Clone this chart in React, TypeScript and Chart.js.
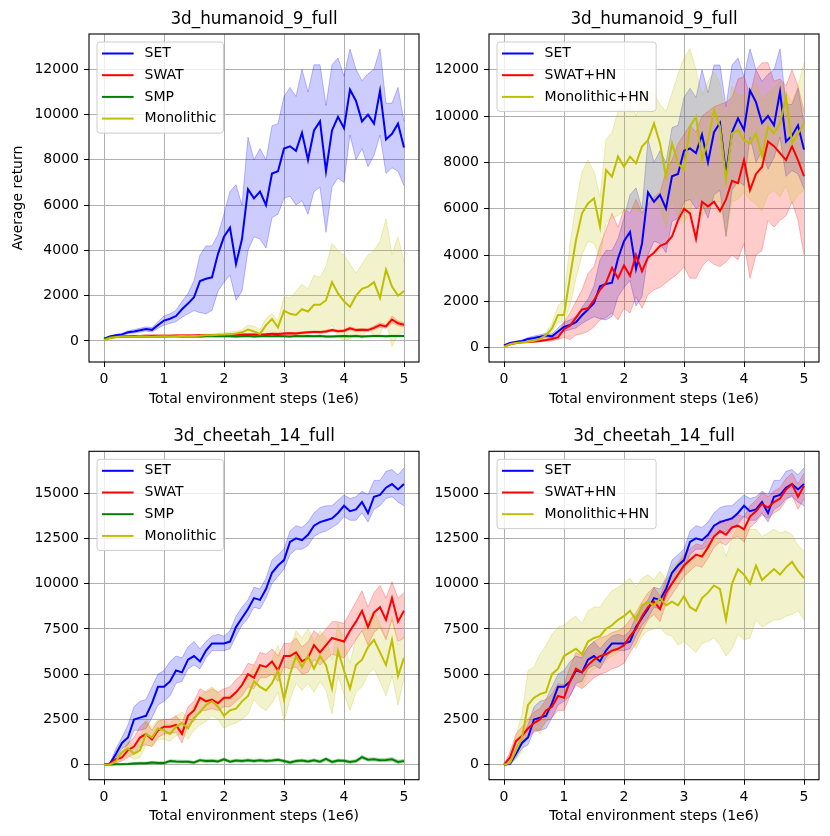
import { useEffect, useRef } from "react";
import { Chart, registerables } from "chart.js";

Chart.register(...registerables);
Chart.defaults.font.family = '"DejaVu Sans", sans-serif';

// ---- data ----
const STEPS = [
  0, 0.1, 0.2, 0.3, 0.4, 0.5, 0.6, 0.7, 0.8, 0.9,
  1.0, 1.1, 1.2, 1.3, 1.4, 1.5, 1.6, 1.7, 1.8, 1.9,
  2.0, 2.1, 2.2, 2.3, 2.4, 2.5, 2.6, 2.7, 2.8, 2.9,
  3.0, 3.1, 3.2, 3.3, 3.4, 3.5, 3.6, 3.7, 3.8, 3.9,
  4.0, 4.1, 4.2, 4.3, 4.4, 4.5, 4.6, 4.7, 4.8, 4.9,
  5.0,
];
const X_TICKS = [0, 1, 2, 3, 4, 5];
const HUMANOID_Y_TICKS = [0, 2000, 4000, 6000, 8000, 10000, 12000];
const CHEETAH_Y_TICKS = [0, 2500, 5000, 7500, 10000, 12500, 15000];

// humanoid, SET (shared by both humanoid panels)
const HUM_SET_MEAN = [
  100, 200, 250, 290, 380, 420, 470, 530, 490, 700,
  900, 980, 1100, 1400, 1650, 1930, 2650, 2750, 2810, 3850,
  4600, 5000, 3400, 4500, 6700, 6300, 6600, 6000, 7400, 7500,
  8500, 8600, 8400, 9200, 8000, 9300, 9700, 7500, 9300, 9900,
  9400, 11100, 10600, 9700, 10000, 9600, 11050, 8900, 9150, 9600,
  8550,
];
const HUM_SET_LO = [
  80, 170, 220, 250, 320, 350, 390, 440, 400, 560,
  700, 780, 850, 1050, 1200, 1340, 1250, 1200, 1350, 2200,
  2600, 2900, 1800, 2200, 4000, 4600, 4500, 4100, 5450, 5600,
  6300, 6400, 6000, 6200, 5600, 6600, 6800, 4800, 6800, 7200,
  7000, 9100, 8000, 8500, 7700, 8200, 9100, 7400, 7650, 7500,
  6860,
];
const HUM_SET_HI = [
  120, 230, 290, 330, 440, 500, 560, 620, 590, 850,
  1100, 1200, 1350, 1750, 2100, 2660, 3800, 4200, 4200, 4700,
  5600, 6600, 6900, 6000, 9000, 8000, 8500, 8000, 9500, 9600,
  10800, 11200, 10800, 12000, 11000, 12200, 12200, 10400, 12200, 12500,
  11700, 12900, 12000, 11500, 11800, 12000, 12900, 10500, 10500, 11200,
  9700,
];

// humanoid, SWAT
const HUM_SWAT_MEAN = [
  50, 150, 190, 200, 210, 220, 220, 230, 230, 230,
  230, 230, 240, 240, 240, 240, 250, 250, 250, 260,
  260, 270, 270, 280, 280, 280, 290, 300, 320, 310,
  330, 340, 330, 360, 380, 400, 390, 420, 480, 430,
  450, 560, 480, 490, 480, 580, 700, 640, 950, 780,
  720,
];
const HUM_SWAT_LO = [
  30, 120, 160, 170, 180, 190, 190, 200, 200, 200,
  200, 200, 210, 210, 210, 210, 220, 220, 220, 230,
  230, 240, 240, 250, 250, 250, 260, 270, 280, 270,
  290, 300, 290, 320, 340, 350, 340, 370, 420, 380,
  390, 490, 420, 430, 420, 500, 600, 560, 800, 680,
  620,
];
const HUM_SWAT_HI = [
  70, 180, 220, 230, 240, 250, 250, 260, 260, 260,
  260, 260, 270, 270, 270, 270, 280, 280, 280, 290,
  290, 300, 300, 310, 310, 310, 320, 330, 360, 350,
  370, 380, 370, 400, 420, 450, 440, 470, 540, 480,
  510, 630, 540, 550, 540, 660, 800, 720, 1100, 880,
  820,
];

// humanoid, SMP
const HUM_SMP_MEAN = [
  100, 150, 170, 180, 190, 200, 200, 200, 210, 200,
  200, 210, 210, 200, 200, 210, 200, 210, 220, 210,
  220, 210, 200, 210, 220, 200, 210, 220, 210, 220,
  210, 200, 220, 210, 220, 210, 220, 200, 200, 210,
  220, 210, 220, 200, 210, 220, 220, 210, 220, 220,
  220,
];
const HUM_SMP_LO = [
  70, 120, 140, 150, 160, 165, 165, 165, 175, 165,
  165, 175, 175, 165, 165, 175, 165, 175, 185, 175,
  185, 175, 165, 175, 185, 165, 175, 185, 175, 185,
  175, 165, 185, 175, 185, 175, 185, 165, 165, 175,
  185, 175, 185, 165, 175, 185, 185, 175, 185, 185,
  185,
];
const HUM_SMP_HI = [
  130, 180, 200, 210, 220, 235, 235, 235, 245, 235,
  235, 245, 245, 235, 235, 245, 235, 245, 255, 245,
  255, 245, 235, 245, 255, 235, 245, 255, 245, 255,
  245, 235, 255, 245, 255, 245, 255, 235, 235, 245,
  255, 245, 255, 235, 245, 255, 255, 245, 255, 255,
  255,
];

// humanoid, Monolithic
const HUM_MONO_MEAN = [
  30, 130, 170, 190, 200, 190, 210, 200, 190, 200,
  210, 200, 210, 220, 210, 220, 230, 250, 250, 270,
  280, 300, 330, 380, 500, 420, 310, 700, 970, 600,
  1340, 1200, 1150, 1400, 1300, 1600, 1600, 1800, 2600, 2100,
  1750, 1500, 2000, 2300, 2400, 2600, 1900, 3150, 2400, 2000,
  2200,
];
const HUM_MONO_LO = [
  0, 90, 130, 150, 150, 140, 160, 150, 140, 150,
  160, 150, 160, 170, 160, 170, 170, 190, 190, 200,
  200, 210, 230, 260, 350, 300, 200, 350, 450, 350,
  500, 300, 350, 250, 300, 450, 300, 400, 700, 200,
  0, 100, 300, 100, 600, 200, 300, 900, -250, 300,
  400,
];
const HUM_MONO_HI = [
  60, 170, 210, 230, 250, 240, 260, 250, 240, 250,
  260, 250, 260, 270, 260, 270, 290, 310, 310, 340,
  360, 390, 430, 500, 700, 650, 500, 1000, 1200, 900,
  1950, 1900, 2200, 2500, 2300, 2900, 2800, 3300, 4300, 4000,
  3800, 3400, 3000, 3400, 3800, 4000, 4400, 5400, 3800, 4600,
  3500,
];

// humanoid, SWAT+HN
const HUM_SWATHN_MEAN = [
  50, 150, 200, 230, 250, 270, 290, 330, 380, 450,
  800, 950, 1300, 1650, 1700, 2050, 2500, 2800, 3450, 3000,
  3550, 3100, 4000, 3300, 3900, 4100, 4400, 4500, 4800, 5500,
  6000, 5800, 4700, 6300, 6100, 6300, 5900, 6400, 7200, 7100,
  8100, 6800, 7500, 7800, 8900, 8700, 8400, 8100, 8700, 8100,
  7400,
];
const HUM_SWATHN_LO = [
  30, 120, 170, 200, 220, 230, 250, 280, 300, 350,
  450, 350, 550, 600, 700, 900, 1200, 1300, 1500, 1200,
  1700, 1500, 2200, 1700, 2300, 2500, 2600, 2800, 3000, 3200,
  3500, 3000, 3000, 3500, 3800, 3600, 3500, 3700, 4000, 3800,
  4500, 3000, 4000, 4200, 5500, 5200, 5500, 5700, 6300, 5500,
  4000,
];
const HUM_SWATHN_HI = [
  70, 180, 230, 260, 280, 310, 340, 390, 460, 600,
  1100, 1500, 2000, 2500, 3200, 3500, 4400, 5100, 5800, 5200,
  6000, 5800, 6400, 5800, 6200, 6500, 6700, 7600, 8100, 8800,
  9200, 9600, 9300, 10000, 10200, 10400, 10500, 10600, 10800, 11600,
  11700, 10900, 12000, 12300, 12300, 11500, 11600, 11300, 12000, 11300,
  10200,
];

// humanoid, Monolithic+HN
const HUM_MONOHN_MEAN = [
  30, 150, 200, 230, 260, 300, 380, 550, 830, 1410,
  1410, 3060, 4650, 5800, 6230, 6450, 5220, 7670, 7380, 8250,
  7810, 8250, 7960, 8680, 8960, 9680, 8820, 7380, 8820, 7960,
  7670, 9540, 9970, 8100, 8960, 10260, 9540, 7240, 9250, 9390,
  8960, 8820, 9250, 8250, 9540, 9250, 9680, 10840, 8820, 9250,
  9680,
];
const HUM_MONOHN_LO = [
  20, 130, 180, 210, 230, 260, 320, 450, 650, 1100,
  1100, 1800, 3000, 4000, 4600, 4500, 3900, 5400, 5600, 5700,
  5900, 6000, 6000, 5800, 6200, 6500, 6000, 5200, 6400, 5600,
  5400, 5900, 6700, 5700, 5900, 6300, 6300, 4800, 6300, 6400,
  6700, 6400, 6200, 5900, 6600, 6800, 6500, 7000, 6200, 6600,
  6800,
];
const HUM_MONOHN_HI = [
  40, 170, 220, 250, 290, 340, 440, 650, 1050, 1800,
  2100, 4500, 6200, 7600, 8100, 7600, 6500, 9000, 9300, 10200,
  10500, 10600, 10000, 10800, 11000, 11000, 10500, 10200, 11000, 11800,
  12500, 12900, 12000, 10900, 11500, 11900, 11400, 9800, 11300, 10900,
  10900, 11100, 11400, 10700, 11000, 11200, 11500, 11000, 10600, 11300,
  12300,
];

// cheetah, SET (shared by both cheetah panels)
const CHE_SET_MEAN = [
  0, 50, 600, 1200, 1500, 2500, 2600, 2700, 3400, 4300,
  4300, 4600, 5200, 5100, 5800, 6000, 5700, 6300, 6700, 6700,
  6700, 6800, 7600, 8100, 8600, 9200, 9100, 9700, 10600, 11000,
  11300, 12300, 12500, 12400, 12700, 13200, 13400, 13500, 13600, 13900,
  14300, 14000, 14100, 14500, 13900, 14800, 14900, 15300, 15500, 15200,
  15500,
];
const CHE_SET_LO = [
  0, 0, 400, 900, 1100, 1900, 1900, 2000, 2600, 3300,
  3500, 3800, 4500, 4600, 5300, 5500, 5300, 5900, 6300, 6300,
  6300, 6400, 7100, 7700, 8100, 8700, 8600, 9200, 10000, 10400,
  10800, 11600, 11900, 11900, 12100, 12600, 12800, 12900, 13100, 13300,
  13700, 13500, 13500, 13900, 13400, 14100, 14300, 14700, 14800, 14500,
  14300,
];
const CHE_SET_HI = [
  0, 100, 900, 1500, 2200, 3200, 3500, 3600, 4300, 5000,
  5200, 5700, 6000, 5900, 6500, 6800, 6400, 6800, 7100, 7200,
  7100, 7400, 8200, 8700, 9100, 9800, 9700, 10300, 11300, 11600,
  11900, 12900, 13200, 13100, 13400, 13900, 14200, 14300, 14300, 14600,
  14900, 14700, 14800, 15100, 14900, 15700, 15700, 16200, 16300, 16000,
  16400,
];

// cheetah, SWAT
const CHE_SWAT_MEAN = [
  0, 50, 300, 400, 800, 1000, 1500, 1700, 1400, 1900,
  2100, 2100, 2200, 1700, 2700, 3000, 3700, 3500, 3600, 3400,
  3700, 3700, 4000, 4400, 5000, 4800, 5500, 5400, 5700, 5200,
  6000, 6000, 6200, 5700, 5900, 6600, 6200, 6600, 7000, 6900,
  6800, 7400, 7900, 8500, 7600, 8400, 8700, 8000, 9200, 7900,
  8500,
];
const CHE_SWAT_LO = [
  0, 0, 100, 200, 400, 600, 1000, 1100, 1000, 1500,
  1700, 1700, 1800, 1200, 2200, 2400, 3000, 3000, 3100, 3000,
  3200, 3200, 3500, 3800, 4300, 4200, 4800, 4800, 5000, 4600,
  5400, 5300, 5400, 5000, 5100, 5800, 5500, 5800, 6100, 6000,
  5900, 6400, 6900, 7400, 6600, 7300, 7600, 6900, 8000, 6800,
  7000,
];
const CHE_SWAT_HI = [
  0, 100, 500, 700, 1200, 1500, 2100, 2400, 1900, 2400,
  2500, 2500, 2700, 2300, 3200, 3500, 4200, 4000, 4200, 4000,
  4200, 4300, 4700, 5000, 5600, 5500, 6200, 6100, 6400, 6000,
  6700, 6700, 7000, 6500, 6800, 7400, 7100, 7500, 7900, 7900,
  7800, 8400, 9000, 9600, 8700, 9500, 9900, 9200, 10100, 9200,
  9500,
];

// cheetah, SMP
const CHE_SMP_MEAN = [
  0, 0, 20, 30, 40, 60, 80, 80, 120, 100,
  90, 200, 180, 170, 160, 120, 250, 200, 220, 180,
  300, 170, 230, 200, 250, 200, 250, 200, 230, 270,
  200, 120, 200, 230, 180, 250, 170, 320, 150, 230,
  220, 150, 200, 420, 280, 300, 250, 260, 300, 150,
  200,
];
const CHE_SMP_LO = [
  0, 0, 0, 0, 0, 10, 20, 20, 50, 30,
  20, 120, 100, 100, 90, 50, 170, 120, 140, 110,
  220, 100, 150, 120, 170, 120, 170, 120, 150, 190,
  120, 40, 120, 150, 100, 170, 90, 230, 70, 150,
  140, 70, 120, 320, 190, 210, 160, 170, 200, 60,
  110,
];
const CHE_SMP_HI = [
  0, 20, 50, 70, 90, 120, 140, 140, 190, 170,
  160, 280, 260, 250, 240, 190, 330, 280, 300, 260,
  380, 250, 310, 290, 330, 290, 330, 280, 310, 350,
  280, 200, 280, 310, 260, 330, 250, 400, 230, 310,
  300, 230, 290, 520, 370, 390, 340, 350, 400, 250,
  290,
];

// cheetah, Monolithic
const CHE_MONO_MEAN = [
  0, 0, 200, 700, 900, 600, 800, 1700, 1500, 2000,
  1900, 1700, 2100, 2300, 2000, 2600, 2900, 3300, 3500, 3200,
  2700, 3000, 3100, 3500, 3800, 4600, 4300, 4100, 4500, 5200,
  3600, 5000, 6000, 5400, 6000, 5300, 6000, 5500, 4200, 6300,
  5200, 4200, 5500, 5800, 6500, 6900, 6200, 5500, 6900, 4900,
  5900,
];
const CHE_MONO_LO = [
  0, 0, 50, 300, 500, 300, 400, 1100, 1000, 1400,
  1400, 1300, 1600, 1700, 1400, 1900, 2200, 2400, 2700, 2500,
  2000, 2200, 2300, 2500, 2800, 3600, 3200, 3000, 3400, 4000,
  2400, 3600, 4500, 4100, 4500, 4000, 4600, 4100, 2800, 4900,
  3900, 3000, 4000, 4300, 5000, 5300, 4600, 3800, 4900, 3300,
  4800,
];
const CHE_MONO_HI = [
  0, 50, 400, 1100, 1300, 1000, 1400, 2500, 2100, 2500,
  2400, 2200, 2700, 2900, 2600, 3300, 3700, 4100, 4300, 4000,
  3600, 3900, 4000, 4500, 4800, 5500, 5300, 5300, 5800, 6600,
  5000, 6400, 7400, 7000, 7500, 6800, 7400, 7000, 5800, 7800,
  6700, 5600, 7000, 7400, 8000, 8500, 7800, 7000, 8200, 6600,
  7100,
];

// cheetah, SWAT+HN
const CHE_SWATHN_MEAN = [
  0, 400, 1300, 1600, 2000, 2300, 2500, 3000, 3200, 3800,
  3700, 4600, 5300, 5100, 5500, 5800, 6000, 6100, 6300, 6400,
  6600, 7100, 7500, 8200, 8700, 9000, 8600, 9500, 10000, 10500,
  11000, 11300, 11600, 11500, 12000, 12600, 12900, 12700, 13100, 13200,
  13000, 13700, 14000, 14400, 14200, 14500, 14700, 15200, 15500, 14800,
  15400,
];
const CHE_SWATHN_LO = [
  0, 200, 900, 1200, 1500, 1800, 1900, 2400, 2600, 3000,
  3000, 3800, 4400, 4200, 4500, 4800, 5000, 5100, 5300, 5400,
  5600, 6200, 6700, 7400, 8000, 8300, 7900, 8900, 9400, 9900,
  10400, 10700, 11000, 10900, 11400, 12000, 12300, 12100, 12500, 12600,
  12300, 13100, 13400, 13800, 13600, 13900, 14100, 14600, 14900, 14100,
  14700,
];
const CHE_SWATHN_HI = [
  0, 700, 1700, 2100, 2500, 2900, 3100, 3600, 3900, 4500,
  4400, 5400, 6200, 6000, 6500, 6800, 7000, 7100, 7300, 7400,
  7600, 8000, 8400, 9000, 9500, 9800, 9300, 10200, 10600, 11100,
  11600, 11900, 12200, 12100, 12600, 13200, 13500, 13300, 13700, 13800,
  13700, 14300, 14600, 15000, 14800, 15100, 15300, 15800, 16100, 15500,
  16100,
];

// cheetah, Monolithic+HN
const CHE_MONOHN_MEAN = [
  0, 100, 800, 1500, 3300, 3700, 3900, 4000, 5000, 5300,
  6000, 6200, 6400, 6100, 6800, 7000, 7100, 7500, 7700, 8000,
  8200, 8500, 8000, 8800, 9000, 8800, 9200, 8800, 9000, 8800,
  9300, 8700, 8500, 9200, 9500, 9900, 9700, 8000, 10000, 10800,
  10500, 10000, 11000, 10200, 10500, 10800, 10500, 10900, 11200, 10700,
  10300,
];
const CHE_MONOHN_LO = [
  0, 0, 300, 700, 1800, 2000, 1700, 2400, 3200, 3600,
  4400, 4400, 4700, 4300, 5000, 5300, 5400, 5800, 6000, 6200,
  6500, 6800, 6400, 7100, 7400, 7500, 7600, 7200, 7100, 6600,
  6800, 6500, 6200, 6700, 6800, 7000, 6600, 6000, 6400, 7200,
  6900, 7000, 8000, 7600, 7800, 8000, 8000, 8200, 8300, 8500,
  8000,
];
const CHE_MONOHN_HI = [
  0, 300, 1600, 2800, 5200, 5400, 6100, 6600, 7200, 7600,
  7700, 8000, 8200, 7800, 8500, 8700, 8700, 9200, 9600, 9800,
  10000, 10300, 9800, 10300, 10500, 10200, 10700, 10200, 11000, 11200,
  11800, 11500, 11400, 11800, 12200, 12500, 12500, 11500, 12500, 13200,
  12900, 13000, 13000, 12600, 12800, 13000, 12800, 12900, 12700, 12100,
  11800,
];

// ---- styling / layout ----
const BLUE = "0,0,255";
const RED = "255,0,0";
const GREEN = "0,128,0";
const YELLOW = "191,191,0";

type Series = { label: string; rgb: string; mean: number[]; lo: number[]; hi: number[] };

const humanoidBase: Series[] = [
  { label: "SET", rgb: BLUE, mean: HUM_SET_MEAN, lo: HUM_SET_LO, hi: HUM_SET_HI },
  { label: "SWAT", rgb: RED, mean: HUM_SWAT_MEAN, lo: HUM_SWAT_LO, hi: HUM_SWAT_HI },
  { label: "SMP", rgb: GREEN, mean: HUM_SMP_MEAN, lo: HUM_SMP_LO, hi: HUM_SMP_HI },
  { label: "Monolithic", rgb: YELLOW, mean: HUM_MONO_MEAN, lo: HUM_MONO_LO, hi: HUM_MONO_HI },
];
const humanoidHN: Series[] = [
  { label: "SET", rgb: BLUE, mean: HUM_SET_MEAN, lo: HUM_SET_LO, hi: HUM_SET_HI },
  { label: "SWAT+HN", rgb: RED, mean: HUM_SWATHN_MEAN, lo: HUM_SWATHN_LO, hi: HUM_SWATHN_HI },
  { label: "Monolithic+HN", rgb: YELLOW, mean: HUM_MONOHN_MEAN, lo: HUM_MONOHN_LO, hi: HUM_MONOHN_HI },
];
const cheetahBase: Series[] = [
  { label: "SET", rgb: BLUE, mean: CHE_SET_MEAN, lo: CHE_SET_LO, hi: CHE_SET_HI },
  { label: "SWAT", rgb: RED, mean: CHE_SWAT_MEAN, lo: CHE_SWAT_LO, hi: CHE_SWAT_HI },
  { label: "SMP", rgb: GREEN, mean: CHE_SMP_MEAN, lo: CHE_SMP_LO, hi: CHE_SMP_HI },
  { label: "Monolithic", rgb: YELLOW, mean: CHE_MONO_MEAN, lo: CHE_MONO_LO, hi: CHE_MONO_HI },
];
const cheetahHN: Series[] = [
  { label: "SET", rgb: BLUE, mean: CHE_SET_MEAN, lo: CHE_SET_LO, hi: CHE_SET_HI },
  { label: "SWAT+HN", rgb: RED, mean: CHE_SWATHN_MEAN, lo: CHE_SWATHN_LO, hi: CHE_SWATHN_HI },
  { label: "Monolithic+HN", rgb: YELLOW, mean: CHE_MONOHN_MEAN, lo: CHE_MONOHN_LO, hi: CHE_MONOHN_HI },
];

interface PanelProps {
  title: string;
  series: Series[];
  box: { left: number; top: number; width: number; height: number };
  area: { left: number; top: number; right: number; bottom: number };
  yMin: number;
  yMax: number;
  yTicks: number[];
  yTitle: boolean;
}

const TICK_FONT = 14;
const gridStyle = { color: "#b0b0b0", lineWidth: 1, tickColor: "#000", tickLength: 5, tickWidth: 1 };

function pts(values: number[]) {
  return values.map((v, i) => ({ x: STEPS[i], y: v }));
}

function Panel({ title, series, box, area, yMin, yMax, yTicks, yTitle }: PanelProps) {
  const chartRef = useRef<HTMLCanvasElement>(null);
  const chartInstance = useRef<Chart | null>(null);

  useEffect(() => {
    if (!chartRef.current) return;
    if (chartInstance.current) chartInstance.current.destroy();
    const ctx = chartRef.current.getContext("2d");
    if (!ctx) return;

    const datasets: any[] = [];
    // bands first, lines after
    series.forEach((s, k) => {
      const loIndex = datasets.length;
      datasets.push({
        data: pts(s.lo),
        borderColor: `rgba(${s.rgb},0.25)`,
        borderWidth: 1,
        pointRadius: 0,
        fill: false,
        order: 20 - k,
      });
      datasets.push({
        data: pts(s.hi),
        borderColor: `rgba(${s.rgb},0.25)`,
        backgroundColor: `rgba(${s.rgb},0.2)`,
        borderWidth: 1,
        pointRadius: 0,
        fill: loIndex,
        order: 20 - k,
      });
    });
    series.forEach((s, k) => {
      datasets.push({
        label: s.label,
        data: pts(s.mean),
        borderColor: `rgb(${s.rgb})`,
        borderWidth: 2,
        pointRadius: 0,
        fill: false,
        order: 10 - k,
      });
    });

    const canvasBottom = box.top + box.height;
    const xAxisH = canvasBottom - area.bottom;

    const decor = {
      id: "decor",
      afterDraw(chart: Chart) {
        const c = chart.ctx;
        const a = chart.chartArea;
        c.save();
        c.strokeStyle = "#000";
        c.lineWidth = 1.1;
        c.strokeRect(a.left, a.top, a.right - a.left, a.bottom - a.top);

        c.fillStyle = "#000";
        c.font = '16.8px "DejaVu Sans"';
        c.textAlign = "center";
        c.textBaseline = "middle";
        c.fillText(title, (a.left + a.right) / 2, a.top - 14.3);

        // legend, upper left
        c.font = `${TICK_FONT}px "DejaVu Sans"`;
        const textW = Math.max(...series.map((s) => c.measureText(s.label).width));
        const x0 = a.left + 8;
        const y0 = a.top + 8;
        const w = 47.6 + textW + 7;
        const h = series.length * 21.7 + 4.3;
        c.beginPath();
        c.roundRect(x0, y0, w, h, 3);
        c.fillStyle = "rgba(255,255,255,0.8)";
        c.fill();
        c.strokeStyle = "#cccccc";
        c.lineWidth = 1;
        c.stroke();
        series.forEach((s, i) => {
          const cy = y0 + 11.5 + i * 21.7;
          c.strokeStyle = `rgb(${s.rgb})`;
          c.lineWidth = 2;
          c.beginPath();
          c.moveTo(x0 + 5, cy);
          c.lineTo(x0 + 36.6, cy);
          c.stroke();
          c.fillStyle = "#000";
          c.textAlign = "left";
          c.textBaseline = "middle";
          c.fillText(s.label, x0 + 47.6, cy);
        });
        c.restore();
      },
    };

    chartInstance.current = new Chart(ctx, {
      type: "line",
      data: { datasets },
      plugins: [decor],
      options: {
        responsive: true,
        maintainAspectRatio: false,
        animation: false,
        events: [],
        layout: {
          padding: {
            left: 0,
            top: area.top - box.top,
            right: box.left + box.width - area.right,
            bottom: 0,
          },
        },
        elements: { line: { tension: 0 } },
        plugins: {
          legend: { display: false },
          tooltip: { enabled: false },
        },
        scales: {
          x: {
            type: "linear",
            min: -0.25,
            max: 5.25,
            afterBuildTicks: (s: any) => {
              s.ticks = X_TICKS.map((v) => ({ value: v }));
            },
            afterFit: (s: any) => {
              s.height = xAxisH;
            },
            ticks: {
              color: "#000",
              font: { size: TICK_FONT },
              padding: 4,
              maxRotation: 0,
              autoSkip: false,
              callback: (v: any) => String(v),
            },
            grid: gridStyle,
            border: { display: false },
            title: {
              display: true,
              text: "Total environment steps (1e6)",
              color: "#000",
              font: { size: TICK_FONT },
              padding: { top: 0, bottom: xAxisH - 45.4 },
            },
          },
          y: {
            type: "linear",
            min: yMin,
            max: yMax,
            afterBuildTicks: (s: any) => {
              s.ticks = yTicks.map((v) => ({ value: v }));
            },
            afterFit: (s: any) => {
              s.width = area.left - box.left;
            },
            ticks: {
              color: "#000",
              font: { size: TICK_FONT },
              padding: 5,
              autoSkip: false,
              callback: (v: any) => String(v),
            },
            grid: gridStyle,
            border: { display: false },
            title: {
              display: yTitle,
              text: "Average return",
              color: "#000",
              font: { size: TICK_FONT },
              padding: { top: 10, bottom: 0 },
            },
          },
        },
      },
    } as any);

    return () => {
      if (chartInstance.current) {
        chartInstance.current.destroy();
        chartInstance.current = null;
      }
    };
  }, [title, series, box, area, yMin, yMax, yTicks, yTitle]);

  return (
    <div
      style={{
        position: "absolute",
        left: box.left,
        top: box.top,
        width: box.width,
        height: box.height,
      }}
    >
      <canvas ref={chartRef} />
    </div>
  );
}

const TL_BOX = { left: 0, top: 0, width: 425, height: 412 };
const TR_BOX = { left: 425, top: 0, width: 405, height: 412 };
const BL_BOX = { left: 0, top: 412, width: 425, height: 418 };
const BR_BOX = { left: 425, top: 412, width: 405, height: 418 };
const TL_AREA = { left: 89, top: 34, right: 419, bottom: 362 };
const TR_AREA = { left: 489, top: 34, right: 819, bottom: 362 };
const BL_AREA = { left: 89, top: 451.3, right: 419, bottom: 779.7 };
const BR_AREA = { left: 489, top: 451.3, right: 819, bottom: 779.7 };

export default function App() {
  return (
    <div
      style={{
        position: "absolute",
        left: 0,
        top: 0,
        width: 830,
        height: 836,
        background: "#fff",
      }}
    >
      <Panel title="3d_humanoid_9_full" series={humanoidBase} box={TL_BOX} area={TL_AREA}
        yMin={-930} yMax={13560} yTicks={HUMANOID_Y_TICKS} yTitle={true} />
      <Panel title="3d_humanoid_9_full" series={humanoidHN} box={TR_BOX} area={TR_AREA}
        yMin={-617} yMax={13541} yTicks={HUMANOID_Y_TICKS} yTitle={false} />
      <Panel title="3d_cheetah_14_full" series={cheetahBase} box={BL_BOX} area={BL_AREA}
        yMin={-828} yMax={17307} yTicks={CHEETAH_Y_TICKS} yTitle={false} />
      <Panel title="3d_cheetah_14_full" series={cheetahHN} box={BR_BOX} area={BR_AREA}
        yMin={-828} yMax={17307} yTicks={CHEETAH_Y_TICKS} yTitle={false} />
    </div>
  );
}
